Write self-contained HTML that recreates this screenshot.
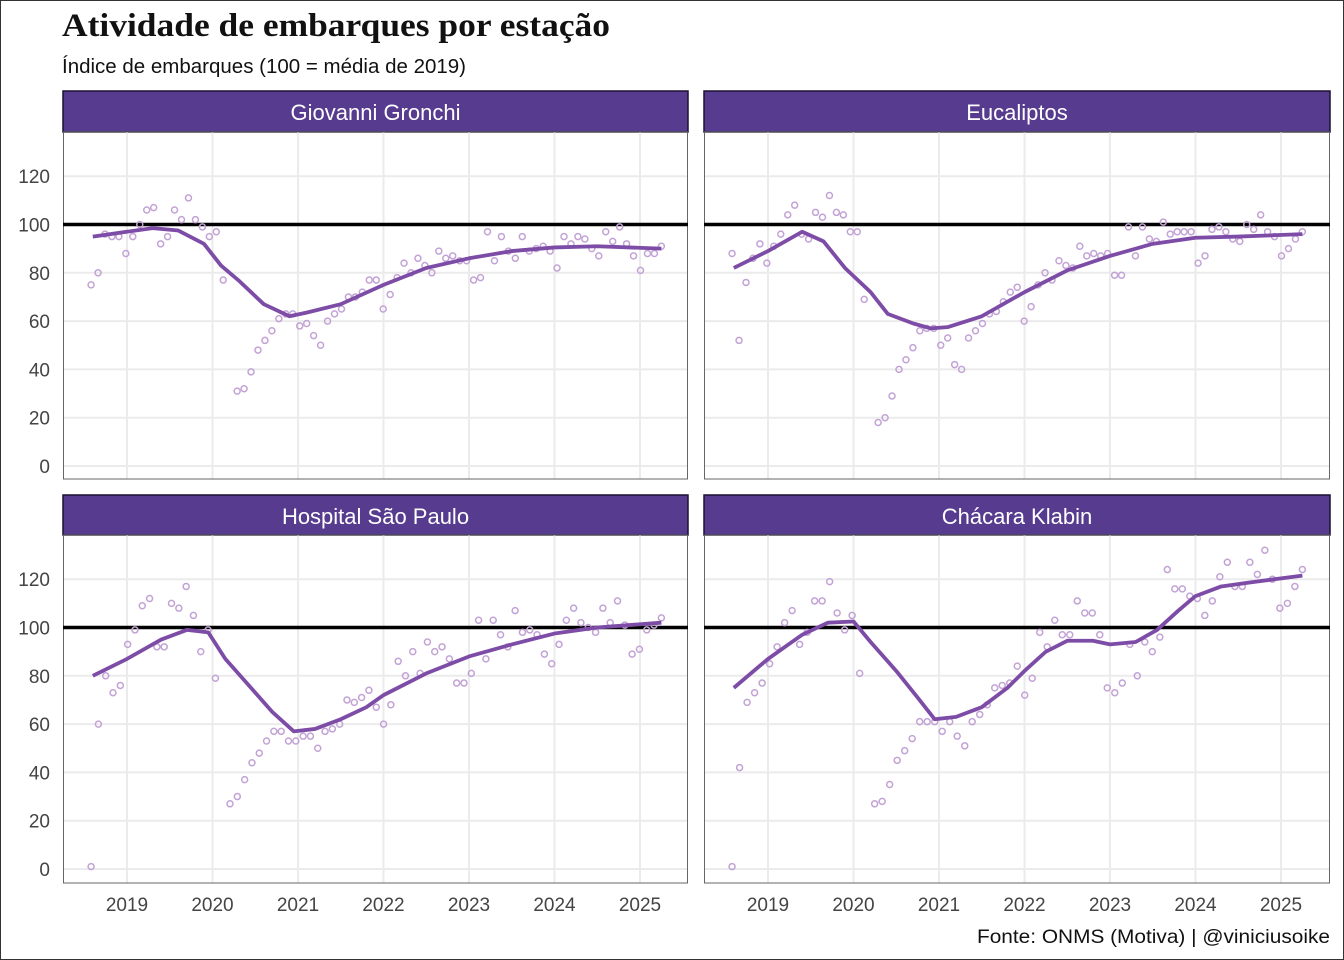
<!DOCTYPE html>
<html><head><meta charset="utf-8"><style>
html,body{margin:0;padding:0;background:#fff}
svg{display:block}
</style></head><body>
<svg id="s" width="1344" height="960" xmlns="http://www.w3.org/2000/svg" font-family="Liberation Sans, sans-serif">
<rect x="0.5" y="0.5" width="1343" height="959" fill="#fff" stroke="#333" stroke-width="1"/>
<text x="62" y="36" font-family="Liberation Serif, serif" font-weight="bold" font-size="33" fill="#111" textLength="548" lengthAdjust="spacingAndGlyphs">Atividade de embarques por estação</text>
<text x="62" y="73" font-size="20" fill="#111" textLength="404" lengthAdjust="spacingAndGlyphs">Índice de embarques (100 = média de 2019)</text>
<text x="977" y="943" font-size="19.5" fill="#111" textLength="353" lengthAdjust="spacingAndGlyphs">Fonte: ONMS (Motiva) | @viniciusoike</text>
<g id="g"></g>
</svg>
<script>
const NS="http://www.w3.org/2000/svg";
const g=document.getElementById('g');
function el(t,a,txt){const e=document.createElementNS(NS,t);for(const k in a)e.setAttribute(k,a[k]);if(txt!==undefined)e.textContent=txt;g.appendChild(e);return e;}
const panels=[
{name:"Giovanni Gronchi",x0:63,x1:688,sy:91,py0:132,py1:479,y0:466,xo:0,
line:[[2018.6,95],[2019.3,98.5],[2019.6,97.5],[2019.9,92],[2020.1,83],[2020.3,77],[2020.6,67],[2020.9,62],[2021.1,63.5],[2021.5,67],[2022,75],[2022.5,82],[2023,86],[2023.5,89],[2024,90.5],[2024.5,91],[2025.25,90]],
pts:[75,80,96,95,95,88,95,100,106,107,92,95,106,102,111,102,99,95,97,77,null,31,32,39,48,52,56,61,63,63,58,59,54,50,60,63,65,70,70,72,77,77,65,71,78,84,80,86,83,80,89,86,87,85,85,77,78,97,85,95,89,86,95,89,90,91,89,82,95,92,95,94,90,87,97,93,99,92,87,81,88,88,91]},
{name:"Eucaliptos",x0:704,x1:1330,sy:91,py0:132,py1:479,y0:466,xo:641,
line:[[2018.6,82],[2019,89],[2019.4,97],[2019.65,93],[2019.9,82],[2020.2,72],[2020.4,63],[2020.7,59],[2020.9,57],[2021.1,57.5],[2021.5,62],[2022,72],[2022.5,81],[2023,87],[2023.5,92],[2024,94.5],[2024.5,95],[2025.25,96]],
pts:[88,52,76,86,92,84,91,96,104,108,96,94,105,103,112,105,104,97,97,69,null,18,20,29,40,44,49,56,57,57,50,53,42,40,53,56,59,63,64,68,72,74,60,66,75,80,77,85,83,82,91,87,88,87,88,79,79,99,87,99,94,93,101,96,97,97,97,84,87,98,99,97,94,93,100,98,104,97,95,87,90,94,97]},
{name:"Hospital São Paulo",x0:63,x1:688,sy:495,py0:535,py1:883,y0:869,xo:0,
line:[[2018.6,80],[2019,87],[2019.4,95],[2019.7,99],[2019.95,98],[2020.15,87],[2020.4,77],[2020.7,65],[2020.95,57],[2021.2,58],[2021.5,62],[2021.8,67],[2022,72],[2022.5,81],[2023,88],[2023.5,93],[2024,97.5],[2024.5,100],[2025.25,102]],
pts:[1,60,80,73,76,93,99,109,112,92,92,110,108,117,105,90,99,79,null,27,30,37,44,48,53,57,57,53,53,55,55,50,57,58,60,70,69,71,74,67,60,68,86,80,90,81,94,90,92,87,77,77,81,103,87,103,97,92,107,98,99,97,89,85,93,103,108,102,100,98,108,102,111,101,89,91,99,101,104]},
{name:"Chácara Klabin",x0:704,x1:1330,sy:495,py0:535,py1:883,y0:869,xo:641,
line:[[2018.6,75],[2019,87],[2019.4,97],[2019.7,102],[2020,102.5],[2020.2,94],[2020.5,82],[2020.75,71],[2020.95,62],[2021.2,63],[2021.5,67],[2021.8,75],[2022,82],[2022.25,90],[2022.5,94.5],[2022.8,94.5],[2023,93],[2023.3,94],[2023.55,99],[2023.8,107],[2024,113],[2024.3,117],[2024.6,118.5],[2025.25,121.5]],
pts:[1,42,69,73,77,85,92,102,107,93,98,111,111,119,106,99,105,81,null,27,28,35,45,49,54,61,61,61,57,61,55,51,61,64,68,75,76,77,84,72,79,98,92,103,97,97,111,106,106,97,75,73,77,93,80,94,90,96,124,116,116,113,112,105,111,121,127,117,117,127,122,132,120,108,110,117,124]}
];
const K=2.415;
panels.forEach(p=>{
  const X=t=>127+p.xo+(t-2019)*85.5;
  const Y=v=>p.y0-v*K;
  el('rect',{x:p.x0,y:p.sy,width:p.x1-p.x0,height:p.py0-p.sy,fill:'#563b8f',stroke:'#1a1030','stroke-width':1.5});
  el('text',{x:(p.x0+p.x1)/2,y:p.sy+29,'text-anchor':'middle','font-size':22,fill:'#fff'},p.name);
  for(let v=0;v<=120;v+=20){el('line',{x1:p.x0,x2:p.x1,y1:Y(v),y2:Y(v),stroke:'#ebebeb','stroke-width':2});}
  for(let yr=2019;yr<=2025;yr++){el('line',{x1:X(yr),x2:X(yr),y1:p.py0,y2:p.py1,stroke:'#ebebeb','stroke-width':2});}
  el('rect',{x:p.x0+0.5,y:p.py0,width:p.x1-p.x0-1,height:p.py1-p.py0,fill:'none',stroke:'#666','stroke-width':1});
  if(p.xo===0){for(let v=0;v<=120;v+=20)el('text',{x:50,y:Y(v)+7,'text-anchor':'end','font-size':19,fill:'#444'},v);}
  if(p.sy>400){for(let yr=2019;yr<=2025;yr++)el('text',{x:X(yr),y:911,'text-anchor':'middle','font-size':19,fill:'#444'},yr);}
  el('line',{x1:p.x0,x2:p.x1,y1:Y(100),y2:Y(100),stroke:'#000','stroke-width':3.5});
  const n=p.pts.length;
  p.pts.forEach((v,i)=>{if(v===null)return;const t=2018.58+i*(2025.25-2018.58)/(n-1);
    el('circle',{cx:X(t),cy:Y(v),r:3,fill:'none',stroke:'#c3a3d6','stroke-width':1.5});});
  el('polyline',{points:p.line.map(q=>X(q[0])+','+Y(q[1])).join(' '),fill:'none',stroke:'#7d4ca6','stroke-width':3.8,'stroke-linejoin':'round'});
});
</script>
</body></html>
